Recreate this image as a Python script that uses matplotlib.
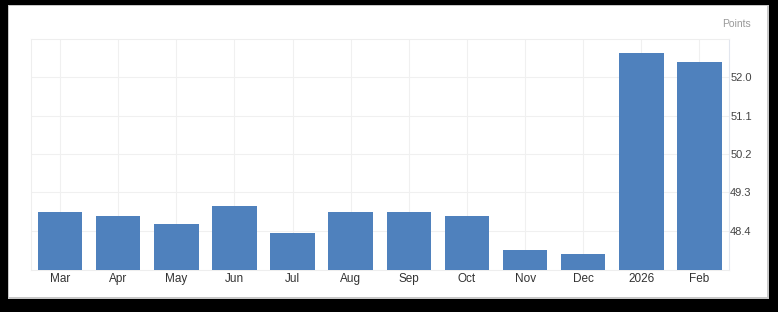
import matplotlib
matplotlib.use('Agg')
import matplotlib.pyplot as plt
from matplotlib.patches import Rectangle

plt.rcParams['font.family'] = ['Liberation Sans', 'DejaVu Sans']

months = ['Mar', 'Apr', 'May', 'Jun', 'Jul', 'Aug', 'Sep', 'Oct', 'Nov', 'Dec', '2026', 'Feb']
values = [48.85, 48.75, 48.55, 48.97, 48.35, 48.85, 48.85, 48.75, 47.95, 47.85, 52.56, 52.36]
yticks = [48.4, 49.3, 50.2, 51.1, 52.0]
unit = 'Points'

fig = plt.figure(figsize=(7.78, 3.12), dpi=100, facecolor='black')

# white card with a soft grey edge
fig.patches.append(Rectangle((8 / 778, 1 - 299 / 312), 761 / 778, 294 / 312,
                             transform=fig.transFigure, facecolor='#c8c8c8',
                             edgecolor='none', zorder=-10))
fig.patches.append(Rectangle((9 / 778, 1 - 297 / 312), 758 / 778, 291 / 312,
                             transform=fig.transFigure, facecolor='white',
                             edgecolor='none', zorder=-9))

ax = fig.add_axes([31 / 778, 42 / 312, 697.5 / 778, 230.7 / 312])
ax.set_facecolor('white')
x = range(len(months))
ax.bar(x, values, width=0.765, color='#4f81bd', zorder=3)

ax.set_xlim(-0.5, len(months) - 0.5)
ax.set_ylim(47.48, 52.89)
ax.set_xticks(list(x))
ax.set_xticklabels(months, fontsize=8.5, color='#333333')
ax.set_yticks(yticks)
ax.set_yticklabels(['%.1f' % t for t in yticks], fontsize=8, color='#444444')
ax.yaxis.tick_right()
ax.tick_params(axis='both', length=0)
ax.tick_params(axis='x', pad=2)
ax.tick_params(axis='y', pad=1.2)
ax.grid(True, color='#f0f0f0', linewidth=0.8, zorder=0)

for side in ['left', 'top', 'bottom']:
    ax.spines[side].set_color('#eeeeee')
    ax.spines[side].set_linewidth(0.8)
ax.spines['right'].set_color('#e2e6ee')
ax.spines['right'].set_linewidth(0.8)

fig.text(736.5 / 778, 1 - 24 / 312, unit, fontsize=7.5, color='#999999',
         ha='center', va='center')

fig.savefig('out.png', dpi=100, facecolor='black')
